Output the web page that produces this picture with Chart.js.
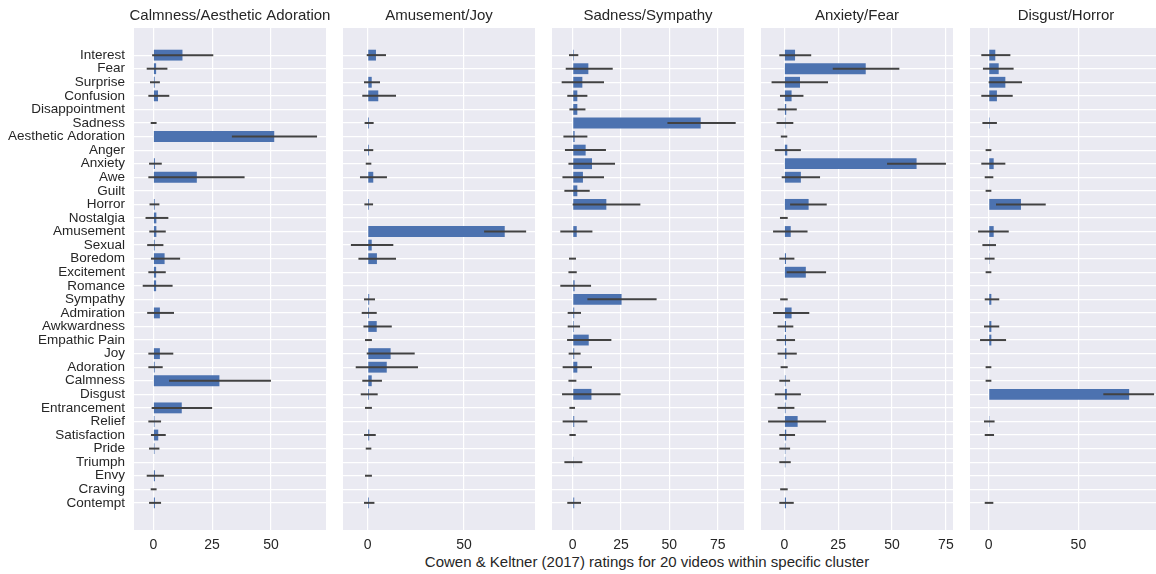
<!DOCTYPE html>
<html>
<head>
<meta charset="utf-8">
<script src="https://cdn.jsdelivr.net/npm/chart.js@4.4.1/dist/chart.umd.min.js"></script>
<style>
  html, body { margin: 0; padding: 0; background: #fff; width: 1156px; height: 574px; overflow: hidden; position: relative; }
  canvas { position: absolute; top: 0; }
  #xtitle { position: absolute; left: 247px; width: 800px; top: 553px; text-align: center;
            font: 15px Arial, "Liberation Sans", sans-serif; color: #262626; white-space: nowrap; }
</style>
</head>
<body>
<div id="xtitle">Cowen &amp; Keltner (2017) ratings for 20 videos within specific cluster</div>
<script>
// Emotion categories rated per video (top to bottom)
const categories = [
  'Interest', 'Fear', 'Surprise', 'Confusion', 'Disappointment', 'Sadness',
  'Aesthetic Adoration', 'Anger', 'Anxiety', 'Awe', 'Guilt', 'Horror', 'Nostalgia',
  'Amusement', 'Sexual', 'Boredom', 'Excitement', 'Romance', 'Sympathy', 'Admiration',
  'Awkwardness', 'Empathic Pain', 'Joy', 'Adoration', 'Calmness', 'Disgust',
  'Entrancement', 'Relief', 'Satisfaction', 'Pride', 'Triumph', 'Envy', 'Craving', 'Contempt'
];

const clusterTitles = ['Calmness/Aesthetic Adoration', 'Amusement/Joy', 'Sadness/Sympathy', 'Anxiety/Fear', 'Disgust/Horror'];

// Mean rating per category and its confidence interval (null = not rated)
const calmMean = [12.4, 1.2, 0.6, 2.0, null, 0, 51.4, null, 0.7, 18.5, null, 0.6, 1.3, 1.3, 0.6, 4.8, 1.2, 1.2, null, 2.8, null, null, 2.8, 0.6, 28.1, null, 12.1, 0.5, 2.1, 0.5, null, 0.7, 0, 0.7];
const calmLo   = [-0.5, -2.8, -1.4, -2.1, null, -1.1, 33.4, null, -1.8, -2.1, null, -1.6, -3.3, -1.7, -2.6, -1.0, -2.1, -4.5, null, -2.6, null, null, -2.1, -2.1, 6.7, null, -0.7, -2.1, -1.0, -1.8, null, -2.8, -1.1, -1.8];
const calmHi   = [25.5, 6.0, 2.8, 6.8, null, 1.4, 69.6, null, 3.6, 38.8, null, 2.6, 6.4, 5.3, 4.3, 11.4, 5.3, 8.2, null, 8.8, null, null, 8.5, 4.0, 50.0, null, 25.0, 3.3, 5.3, 2.6, null, 4.5, 1.4, 3.3];

const joyMean = [4.3, null, 2.1, 5.5, null, 0.7, null, 0.7, 0, 2.9, null, 0.7, null, 71.1, 2.1, 4.8, null, null, 0.8, 0.7, 4.7, 0, 11.9, 9.9, 2.1, 0.7, 0, null, 0.8, 0, null, 0, null, 0.7];
const joyLo   = [-0.5, null, -1.9, -2.8, null, -1.6, null, -1.9, -1.0, -4.0, null, -1.7, null, 60.4, -8.7, -4.8, null, null, -1.9, -3.1, -2.2, -1.4, -0.5, -6.2, -2.8, -3.6, -1.4, null, -1.9, -1.0, null, -1.4, null, -1.9];
const joyHi   = [9.5, null, 6.4, 14.7, null, 3.1, null, 2.9, 1.9, 10.0, null, 2.8, null, 82.2, 13.3, 14.7, null, null, 3.8, 4.7, 12.5, 2.2, 24.4, 26.1, 7.4, 5.2, 2.2, null, 4.2, 1.9, null, 2.2, null, 3.5];

const sadMean = [0.6, 8.1, 5.0, 2.4, 2.4, 66.2, 1.0, 6.7, 10.0, 5.3, 2.4, 17.4, null, 2.1, null, 0, 0, 1.0, 25.3, 0.8, 0.6, 8.3, 0.8, 2.4, 0, 9.7, 0, 0.8, 0, null, 0.4, null, null, 0.8];
const sadLo   = [-1.9, -3.6, -5.7, -2.8, -1.7, 49.0, -4.8, -4.0, -2.2, -5.3, -4.3, 0, null, -6.4, null, -1.9, -2.2, -6.4, 7.6, -2.6, -2.6, -2.9, -2.1, -5.2, -2.2, -5.5, -1.7, -5.2, -1.7, null, -4.3, null, null, -2.8];
const sadHi   = [2.9, 20.7, 16.2, 7.6, 6.6, 84.3, 7.6, 17.2, 21.9, 16.2, 8.8, 35.0, null, 10.2, null, 1.7, 2.1, 9.5, 43.4, 4.3, 3.8, 20.0, 4.1, 10.0, 1.9, 24.7, 1.2, 7.6, 1.6, null, 5.0, null, null, 4.3];

const fearMean = [5.0, 37.8, 7.3, 3.4, 0.9, 0.5, 0, 1.4, 61.4, 7.7, null, 11.3, 0, 3.0, null, 0.8, 10.0, null, 0, 3.4, 0.8, 0.8, 1.0, 0, 0.6, 1.2, 0.6, 6.2, 0.9, 0.5, 0.5, null, 0, 0.8];
const fearLo   = [-2.3, 22.5, -5.9, -2.0, -3.1, -3.6, -1.6, -4.4, 47.7, -1.2, null, 2.7, -2.0, -5.2, null, -2.3, 1.1, null, -1.9, -5.2, -3.1, -3.6, -3.1, -1.7, -2.3, -4.4, -3.1, -7.5, -2.3, -2.3, -2.3, null, -1.9, -2.3];
const fearHi   = [12.5, 53.4, 20.3, 8.9, 5.8, 4.2, 1.4, 7.7, 75.0, 16.6, null, 19.7, 1.6, 10.8, null, 4.7, 19.4, null, 1.6, 11.6, 4.2, 5.0, 5.8, 1.6, 2.7, 7.7, 4.7, 19.4, 5.0, 2.7, 3.0, null, 1.6, 4.4];

const disgustMean = [3.7, 5.6, 9.3, 4.6, null, 0.6, null, 0, 2.8, 0, 0, 18.0, null, 2.8, 0.5, 0.5, 0, null, 1.5, null, 1.5, 1.5, null, 0, 0, 78.3, null, 0.5, 0, null, null, null, null, 0];
const disgustLo   = [-4.1, -3.2, 0, -4.1, null, -3.5, null, -1.7, -4.1, -2.2, -1.7, 4.1, null, -5.9, -3.5, -2.2, -1.7, null, -2.2, null, -2.6, -4.8, null, -1.7, -1.7, 63.9, null, -2.6, -2.2, null, null, null, null, -2.2];
const disgustHi   = [12.1, 13.9, 18.6, 13.4, null, 4.6, null, 1.5, 9.3, 2.6, 1.5, 31.8, null, 11.2, 4.1, 3.3, 1.5, null, 5.9, null, 5.9, 9.7, null, 1.5, 1.5, 92.2, null, 3.3, 3.0, null, null, null, null, 2.6];

// Axis tick values and limits for each cluster panel
const xTickValues = [[0, 25, 50], [0, 50], [0, 25, 50, 75], [0, 25, 50, 75], [0, 50]];
const xLimits = [[-8.2, 73.4], [-12.8, 86.8], [-10.7, 88.6], [-10.8, 78.3], [-10.4, 96.6]];

const panels = [
  { mean: calmMean, lo: calmLo, hi: calmHi },
  { mean: joyMean, lo: joyLo, hi: joyHi },
  { mean: sadMean, lo: sadLo, hi: sadHi },
  { mean: fearMean, lo: fearLo, hi: fearHi },
  { mean: disgustMean, lo: disgustLo, hi: disgustHi }
];

// Layout: plot-area left edges, common width, empty rows above/below the categories
const PLOT_LEFT = [134, 343, 552, 761, 970];
const PLOT_W = 192;
const LABEL_W = 134;
const SIDE = 10;
const PAD_ROWS = 2;
const FONT = 'Arial, "Liberation Sans", sans-serif';
const INK = '#262626';

const blank = Array(PAD_ROWS).fill('');
const yLabels = [...blank, ...categories, ...blank];
const padNull = Array(PAD_ROWS).fill(null);

function makePlugins(title, lo, hi) {
  return [{
    id: 'panelBg',
    beforeDraw(chart) {
      const { ctx, chartArea: a } = chart;
      ctx.save();
      ctx.fillStyle = '#EAEAF2';
      ctx.fillRect(a.left, a.top, a.right - a.left, a.bottom - a.top);
      ctx.restore();
    }
  }, {
    id: 'ciLines',
    afterDatasetsDraw(chart) {
      const { ctx, chartArea: a, scales: { x, y } } = chart;
      ctx.save();
      ctx.beginPath();
      ctx.rect(a.left, a.top, a.right - a.left, a.bottom - a.top);
      ctx.clip();
      ctx.strokeStyle = '#424242';
      ctx.lineWidth = 2;
      lo.forEach((l, i) => {
        const h = hi[i];
        if (l === null || h === null) return;
        const py = y.getPixelForValue(i + PAD_ROWS);
        ctx.beginPath();
        ctx.moveTo(x.getPixelForValue(l), py);
        ctx.lineTo(x.getPixelForValue(h), py);
        ctx.stroke();
      });
      ctx.restore();
    }
  }, {
    id: 'panelTitle',
    afterDraw(chart) {
      const { ctx, chartArea: a } = chart;
      ctx.save();
      ctx.font = '15px ' + FONT;
      ctx.fillStyle = INK;
      ctx.textAlign = 'center';
      ctx.textBaseline = 'middle';
      ctx.fillText(title, (a.left + a.right) / 2, 16);
      ctx.restore();
    }
  }];
}

panels.forEach((p, k) => {
  const first = k === 0;
  const canvas = document.createElement('canvas');
  const leftW = first ? LABEL_W : SIDE;
  canvas.width = leftW + PLOT_W + SIDE;
  canvas.height = 574;
  canvas.style.left = (PLOT_LEFT[k] - leftW) + 'px';
  document.body.appendChild(canvas);

  new Chart(canvas, {
    type: 'bar',
    data: {
      labels: yLabels,
      datasets: [{
        data: [...padNull, ...p.mean, ...padNull],
        backgroundColor: '#4C72B0',
        borderWidth: 0,
        categoryPercentage: 1,
        barPercentage: 0.8
      }]
    },
    options: {
      indexAxis: 'y',
      responsive: false,
      animation: false,
      events: [],
      layout: { padding: { top: 28, bottom: 0, left: first ? 0 : SIDE, right: SIDE } },
      plugins: { legend: { display: false }, tooltip: { enabled: false }, title: { display: false } },
      scales: {
        x: {
          type: 'linear',
          min: xLimits[k][0],
          max: xLimits[k][1],
          afterBuildTicks: s => { s.ticks = xTickValues[k].map(v => ({ value: v })); },
          afterFit: s => { s.height = 44; },
          grid: { color: '#ffffff', lineWidth: 1.2, drawTicks: false },
          border: { display: false },
          ticks: { font: { family: FONT, size: 14 }, color: INK, padding: 7, maxRotation: 0 }
        },
        y: {
          type: 'category',
          offset: false,
          afterFit: s => { s.width = first ? LABEL_W : 0; },
          grid: {
            offset: false,
            drawTicks: false,
            lineWidth: 1.2,
            color: c => (c.index >= PAD_ROWS && c.index < PAD_ROWS + categories.length) ? '#ffffff' : 'rgba(0,0,0,0)'
          },
          border: { display: false },
          ticks: {
            display: first,
            autoSkip: false,
            font: { family: FONT, size: 13.5 },
            color: INK,
            padding: 9
          }
        }
      }
    },
    plugins: makePlugins(clusterTitles[k], p.lo, p.hi)
  });
});
</script>
</body>
</html>
